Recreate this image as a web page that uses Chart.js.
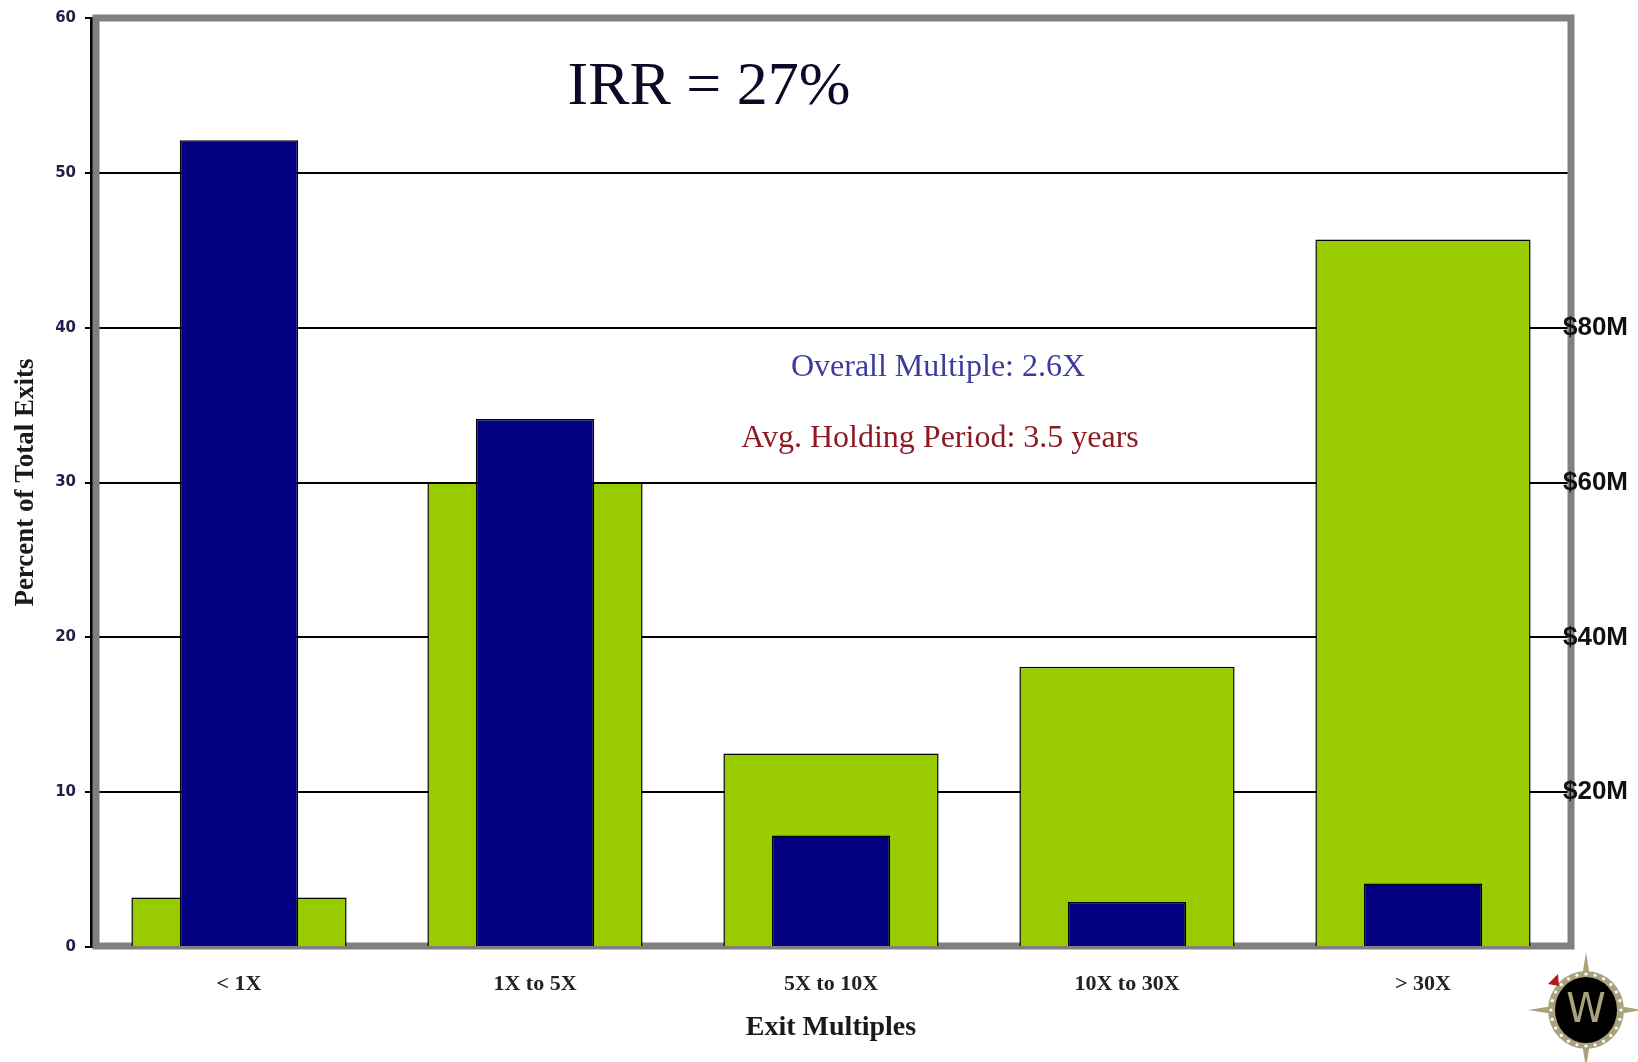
<!DOCTYPE html>
<html>
<head>
<meta charset="utf-8">
<title>Exit Multiples</title>
<script src="https://cdn.jsdelivr.net/npm/chart.js@4.4.1/dist/chart.umd.min.js"></script>
<style>
  html, body { margin: 0; padding: 0; background: #fff; }
  #wrap { width: 1638px; height: 1062px; }
</style>
</head>
<body>
<div id="wrap"><canvas id="exitChart" width="1638" height="1062"></canvas></div>
<script>
// categories and values
const categories = ['< 1X', '1X to 5X', '5X to 10X', '10X to 30X', '> 30X'];
const pctOfExits = [52.1, 34.1, 7.2, 2.9, 4.1];     // navy bars
const pctOfDollars = [3.2, 30, 12.5, 18.1, 45.7];   // green bars
const leftTicks = [0, 10, 20, 30, 40, 50, 60];
const rightTickValues = [20, 40, 60, 80];
const rightTickLabels = ['$20M', '$40M', '$60M', '$80M'];

const SERIF = '"Liberation Serif", "Times New Roman", serif';

// gray "wall" frame round the plot, like the old excel look
const framePlugin = {
  id: 'frame',
  beforeDatasetsDraw(chart) {
    const { ctx, chartArea: a } = chart;
    ctx.save();
    ctx.strokeStyle = '#808080';
    ctx.lineWidth = 7;
    ctx.strokeRect(a.left + 5, a.top, a.right - a.left - 5, a.bottom - a.top - 1);
    ctx.restore();
  }
};

// free text on the chart + the little compass logo
const notesPlugin = {
  id: 'notes',
  afterDraw(chart) {
    const ctx = chart.ctx;
    ctx.save();
    ctx.textAlign = 'center';
    ctx.textBaseline = 'middle';

    ctx.fillStyle = '#0a0a28';
    ctx.font = '62px ' + SERIF;
    ctx.fillText('IRR = 27%', 709, 88);

    ctx.fillStyle = '#3c3ca0';
    ctx.font = '32px ' + SERIF;
    ctx.fillText('Overall Multiple: 2.6X', 938, 368);

    ctx.fillStyle = '#8c1a22';
    ctx.fillText('Avg. Holding Period: 3.5 years', 940, 439);

    // logo
    const cx = 1586, cy = 1010;
    ctx.fillStyle = '#aaa27c';
    ctx.beginPath();
    ctx.moveTo(cx, cy - 58);
    ctx.lineTo(cx + 8, cy - 8);
    ctx.lineTo(cx + 56, cy);
    ctx.lineTo(cx + 8, cy + 8);
    ctx.lineTo(cx, cy + 58);
    ctx.lineTo(cx - 8, cy + 8);
    ctx.lineTo(cx - 58, cy);
    ctx.lineTo(cx - 8, cy - 8);
    ctx.closePath();
    ctx.fill();
    ctx.beginPath();
    ctx.ellipse(cx, cy, 38, 39, 0, 0, Math.PI * 2);
    ctx.fill();
    ctx.fillStyle = '#ffffff';
    for (let i = 0; i < 24; i++) {
      const t = i / 24 * Math.PI * 2;
      ctx.beginPath();
      ctx.arc(cx + Math.cos(t) * 35, cy + Math.sin(t) * 36, 1.6, 0, Math.PI * 2);
      ctx.fill();
    }
    ctx.fillStyle = '#000';
    ctx.beginPath();
    ctx.ellipse(cx, cy, 31, 33, 0, 0, Math.PI * 2);
    ctx.fill();
    ctx.fillStyle = '#aaa27c';
    ctx.font = '40px "DejaVu Sans", sans-serif';
    ctx.fillText('W', cx, cy + 2);
    ctx.fillStyle = '#b01a1a';
    ctx.beginPath();
    ctx.moveTo(cx - 38, cy - 26);
    ctx.lineTo(cx - 28, cy - 36);
    ctx.lineTo(cx - 27, cy - 24);
    ctx.closePath();
    ctx.fill();
    ctx.restore();
  }
};

const chart = new Chart(document.getElementById('exitChart'), {
  type: 'bar',
  data: {
    labels: categories,
    datasets: [
      {
        label: 'Percent of exits',
        data: pctOfExits,
        backgroundColor: '#000080',
        borderColor: '#000000',
        borderWidth: 1.5,
        grouped: false,
        order: 1,
        categoryPercentage: 1,
        barPercentage: 0.40
      },
      {
        label: 'Share of dollars',
        data: pctOfDollars,
        backgroundColor: '#99cc00',
        borderColor: '#000000',
        borderWidth: 1.5,
        grouped: false,
        order: 2,
        categoryPercentage: 1,
        barPercentage: 0.727
      }
    ]
  },
  options: {
    responsive: false,
    animation: false,
    layout: { padding: { top: 16 } },
    plugins: {
      legend: { display: false },
      tooltip: { enabled: false }
    },
    scales: {
      x: {
        afterFit(scale) { scale.height = 115; },
        grid: { display: false, drawTicks: false },
        border: { display: false },
        ticks: {
          padding: 24,
          color: '#222',
          font: { family: SERIF, size: 22, weight: 'bold' }
        },
        title: {
          display: true,
          text: 'Exit Multiples',
          color: '#1a1a1a',
          font: { family: SERIF, size: 28, weight: 'bold' },
          padding: { top: 0, bottom: 17 }
        }
      },
      y: {
        min: 0,
        max: 60,
        afterFit(scale) { scale.width = 91; },
        afterBuildTicks(scale) { scale.ticks = leftTicks.map(v => ({ value: v })); },
        grid: { color: '#000', lineWidth: 2, tickLength: 6 },
        border: { color: '#000', width: 3 },
        ticks: {
          padding: 9,
          color: '#1f1f4a',
          font: { family: '"DejaVu Sans", sans-serif', size: 15, weight: 'bold' }
        },
        title: {
          display: true,
          text: 'Percent of Total Exits',
          color: '#1a1a1a',
          font: { family: SERIF, size: 27, weight: 'bold' },
          padding: { top: 10, bottom: 0 }
        }
      },
      y2: {
        position: 'right',
        min: 0,
        max: 120,
        afterFit(scale) {
          scale.width = 67;
          // labels sit over the frame, they should not push the plot area
          scale.paddingTop = 0;
          scale.paddingBottom = 0;
        },
        afterBuildTicks(scale) { scale.ticks = rightTickValues.map(v => ({ value: v })); },
        grid: { drawOnChartArea: false, drawTicks: false },
        border: { display: false },
        ticks: {
          z: 1,
          mirror: true,
          padding: 57,
          color: '#111',
          font: { family: '"Liberation Sans", Arial, sans-serif', size: 26, weight: 'bold' },
          callback: (v) => rightTickLabels[rightTickValues.indexOf(v)]
        }
      }
    }
  },
  plugins: [framePlugin, notesPlugin]
});
</script>
</body>
</html>
